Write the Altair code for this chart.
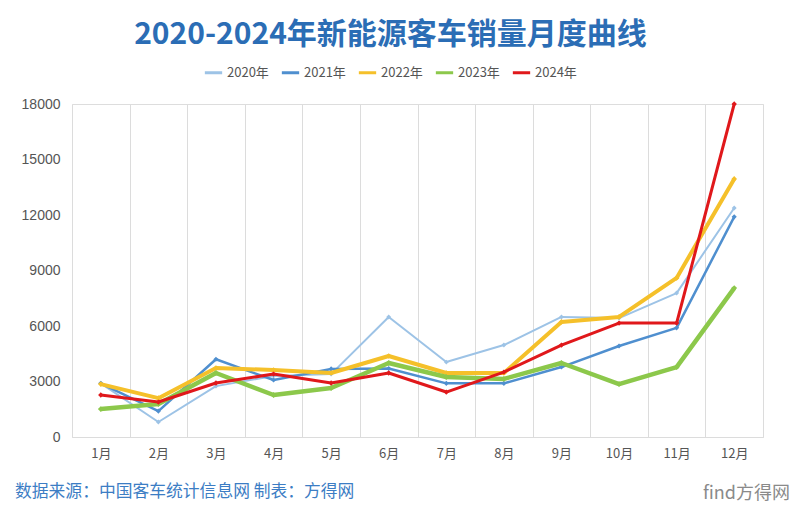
import altair as alt
import pandas as pd

months = ["1月", "2月", "3月", "4月", "5月", "6月", "7月", "8月", "9月", "10月", "11月", "12月"]
years = ["2020年", "2021年", "2022年", "2023年", "2024年"]
v2020 = [2900, 810, 2750, 3300, 3400, 6490, 4050, 4970, 6490, 6430, 7780, 12380]
v2021 = [2900, 1400, 4200, 3080, 3680, 3700, 2900, 2900, 3780, 4920, 5900, 11900]
v2022 = [2860, 2100, 3730, 3620, 3460, 4380, 3460, 3460, 6220, 6490, 8600, 13950]
v2023 = [1510, 1780, 3460, 2270, 2650, 4000, 3240, 3140, 4000, 2860, 3780, 8050]
v2024 = [2270, 1890, 2920, 3400, 2920, 3460, 2430, 3510, 4970, 6160, 6160, 18000]
colors = ["#9DC3E6", "#4F8FCF", "#F5C02A", "#8CC84B", "#E0181B"]
widths = [2, 2.5, 4, 4.5, 3]

series = [v2020, v2021, v2022, v2023, v2024]
rows = []
for y, vals in zip(years, series):
    for m, v in zip(months, vals):
        rows.append({"月份": m, "年份": y, "销量": v})
df = pd.DataFrame(rows)

W, H = 691, 333

x = alt.X("月份:N", sort=months, scale=alt.Scale(type="band", paddingInner=0, paddingOuter=0),
          axis=alt.Axis(title=None, tickBand="extent", grid=True, gridColor="#dcdcdc", ticks=False,
                        domain=True, domainColor="#dcdcdc", labelAngle=0, labelFontSize=13,
                        labelColor="#555555", labelPadding=10, labelFont="Noto Sans CJK SC"))
y = alt.Y("销量:Q", scale=alt.Scale(domain=[0, 18000], nice=False),
          axis=alt.Axis(title=None, values=list(range(0, 18001, 3000)), format="d", grid=False, ticks=False,
                        domain=False, labelFontSize=14, labelColor="#555555", labelPadding=12,
                        labelFont="Liberation Sans"))
cscale = alt.Scale(domain=years, range=colors)
legend = alt.Legend(title=None, orient="none", legendX=131, legendY=-42,
                    direction="horizontal", symbolType="stroke", symbolStrokeWidth=3,
                    symbolSize=300, labelFontSize=13, labelColor="#555555",
                    labelFont="Noto Sans CJK SC", columnPadding=6, labelOffset=3)

layers = []
for i, (yr, w) in enumerate(zip(years, widths)):
    c = alt.Color("年份:N", sort=years, scale=cscale, legend=legend if i == 0 else None)
    b = alt.Chart(df).transform_filter(alt.datum["年份"] == yr)
    layers.append(b.mark_line(strokeWidth=w, strokeJoin="round").encode(x=x, y=y, color=c))
    layers.append(b.mark_point(shape="diamond", filled=True, size=16 + 4 * w, opacity=1).encode(
        x=x, y=y, color=alt.Color("年份:N", sort=years, scale=cscale, legend=None)))

footer = alt.Chart(pd.DataFrame({"t": ["数据来源：中国客车统计信息网 制表：方得网"]})).mark_text(
    fontSize=16.8, color="#3C7DC4", font="Noto Sans CJK SC", align="left", baseline="middle"
).encode(text="t:N", x=alt.value(-57), y=alt.value(388))

mark = alt.Chart(pd.DataFrame({"t": ["find方得网"]})).mark_text(
    fontSize=18, color="#8a8a8a", font="Noto Sans CJK SC", align="right", baseline="middle"
).encode(text="t:N", x=alt.value(718), y=alt.value(390))

chart = alt.layer(*layers, footer, mark).properties(
    width=W, height=H,
    title=alt.TitleParams("2020-2024年新能源客车销量月度曲线", fontSize=30, fontWeight="bold",
                          color="#2B6DB5", font="Noto Sans CJK SC", anchor="middle", dx=-27,
                          offset=12),
    autosize=alt.AutoSizeParams(type="none"),
    padding={"left": 64, "top": 96, "right": 29, "bottom": 70},
).configure_view(stroke=None).configure(background="white")

chart.save("out.html", embed_options={"renderer": "svg", "actions": False})
